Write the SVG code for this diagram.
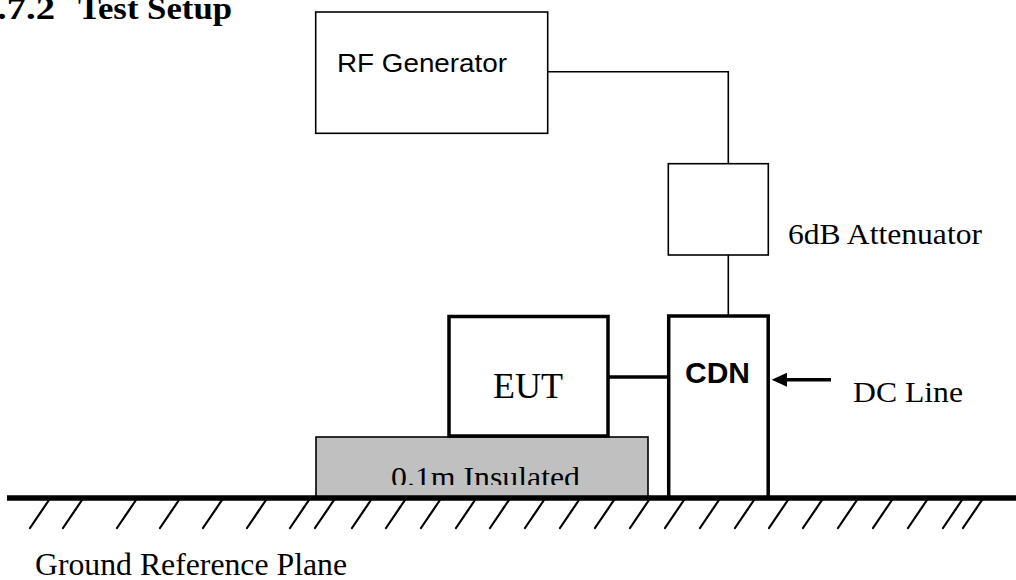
<svg xmlns="http://www.w3.org/2000/svg" width="1016" height="580" viewBox="0 0 1016 580">
<style>
.thin{fill:#fff;stroke:#000;stroke-width:1.6}
.thick{fill:#fff;stroke:#000;stroke-width:3.5}
.wire{fill:none;stroke:#000;stroke-width:1.6}
.wireb{fill:none;stroke:#000;stroke-width:3.5}
.hatch{stroke:#000;stroke-width:2.2;stroke-linecap:round}
.serif{font-family:"Liberation Serif","Times New Roman",serif;fill:#000}
.sans{font-family:"Liberation Sans",Arial,sans-serif;fill:#000}
</style>
<defs>
<clipPath id="insClip"><rect x="316" y="437" width="332" height="48"/></clipPath>
</defs>
<rect width="1016" height="580" fill="#fff"/>
<text class="serif" font-weight="bold" font-size="31" y="19"><tspan x="-3" textLength="58" lengthAdjust="spacingAndGlyphs">.7.2</tspan><tspan x="78" textLength="154" lengthAdjust="spacingAndGlyphs">Test Setup</tspan></text>

<g id="connectors">
<polyline class="wire" points="548,71.7 728.3,71.7 728.3,163.7"/>
<line class="wire" x1="728.3" y1="255" x2="728.3" y2="316"/>
<line class="wireb" x1="608" y1="377" x2="668.7" y2="377"/>
<line class="wireb" x1="831" y1="379.7" x2="784" y2="379.7"/>
<polygon points="771.7,379.7 787,372.7 787,386.7" fill="#000"/>
</g>

<g id="rf-generator">
<rect class="thin" x="315.7" y="12" width="232" height="121.3"/>
<text class="sans" x="337" y="72" font-size="26" textLength="170" lengthAdjust="spacingAndGlyphs">RF Generator</text>
</g>

<g id="attenuator">
<rect class="thin" x="668.3" y="163.7" width="100" height="91.3"/>
<text class="serif" x="788" y="244" font-size="29" textLength="194" lengthAdjust="spacingAndGlyphs">6dB Attenuator</text>
</g>

<g id="insulation">
<rect x="316" y="437" width="332" height="60" fill="#c0c0c0" stroke="#000" stroke-width="1.6"/>
<text class="serif" x="391" y="487" font-size="30" textLength="189" lengthAdjust="spacingAndGlyphs" clip-path="url(#insClip)">0.1m Insulated</text>
</g>

<g id="eut">
<rect class="thick" x="449" y="316.5" width="159" height="119.5"/>
<text class="serif" x="493" y="398" font-size="36" textLength="70" lengthAdjust="spacingAndGlyphs">EUT</text>
</g>

<g id="cdn">
<rect class="thick" x="668.7" y="316" width="99.5" height="182"/>
<text class="sans" font-weight="bold" x="685" y="383" font-size="30" textLength="65" lengthAdjust="spacingAndGlyphs">CDN</text>
</g>

<g id="dc-line">
<text class="serif" x="853" y="402" font-size="30" textLength="110" lengthAdjust="spacingAndGlyphs">DC Line</text>
</g>

<g id="ground">
<line x1="7" y1="498" x2="1016" y2="498" stroke="#000" stroke-width="5.5"/>
<g class="hatch">
<line x1="30" y1="528" x2="49" y2="500"/>
<line x1="63" y1="528" x2="82" y2="500"/>
<line x1="117" y1="528" x2="136" y2="500"/>
<line x1="160" y1="528" x2="179" y2="500"/>
<line x1="203" y1="528" x2="222" y2="500"/>
<line x1="247" y1="528" x2="266" y2="500"/>
<line x1="290" y1="528" x2="309" y2="500"/>
<line x1="315" y1="528" x2="334" y2="500"/>
<line x1="352" y1="528" x2="371" y2="500"/>
<line x1="386" y1="528" x2="405" y2="500"/>
<line x1="421" y1="528" x2="440" y2="500"/>
<line x1="456" y1="528" x2="475" y2="500"/>
<line x1="490" y1="528" x2="509" y2="500"/>
<line x1="525" y1="528" x2="544" y2="500"/>
<line x1="560" y1="528" x2="579" y2="500"/>
<line x1="595" y1="528" x2="614" y2="500"/>
<line x1="630" y1="528" x2="649" y2="500"/>
<line x1="665" y1="528" x2="684" y2="500"/>
<line x1="700" y1="528" x2="719" y2="500"/>
<line x1="735" y1="528" x2="754" y2="500"/>
<line x1="769" y1="528" x2="788" y2="500"/>
<line x1="803" y1="528" x2="822" y2="500"/>
<line x1="838" y1="528" x2="857" y2="500"/>
<line x1="873" y1="528" x2="892" y2="500"/>
<line x1="908" y1="528" x2="927" y2="500"/>
<line x1="943" y1="528" x2="962" y2="500"/>
<line x1="963" y1="528" x2="982" y2="500"/>
</g>
<text class="serif" x="35" y="575" font-size="32" textLength="312" lengthAdjust="spacingAndGlyphs">Ground Reference Plane</text>
</g>
</svg>
